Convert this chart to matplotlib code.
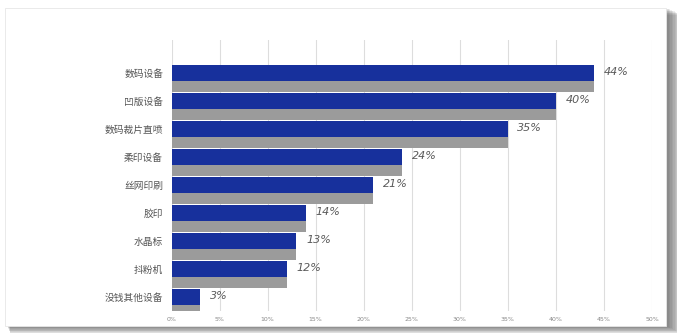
import matplotlib
matplotlib.use("Agg")
import matplotlib.pyplot as plt
from matplotlib.patches import Rectangle
import numpy as np

categories = ["数码设备", "凹版设备", "数码裁片直喷", "柔印设备", "丝网印刷",
              "胶印", "水晶标", "抖粉机", "没钱其他设备"]
values = [44, 40, 35, 24, 21, 14, 13, 12, 3]
tick_values = [0, 5, 10, 15, 20, 25, 30, 35, 40, 45, 50]

W, H = 677, 333
fig = plt.figure(figsize=(W / 100, H / 100), dpi=100)
fig.patch.set_facecolor("white")

# card with a soft drop shadow on the right and bottom edges
card_l, card_r, card_t, card_b = 4.5, 666, 7.5, 326
for k in range(10):
    fig.patches.append(Rectangle(((card_l + 3 + k * 0.3) / W, (H - card_b - 1 - k * 0.7) / H),
                                 (card_r - card_l + k * 1.1) / W, (card_b - card_t) / H,
                                 transform=fig.transFigure, facecolor="#444444",
                                 edgecolor="none", alpha=0.09, zorder=0))
fig.patches.append(Rectangle((card_l / W, (H - card_b) / H), (card_r - card_l) / W,
                             (card_b - card_t) / H, transform=fig.transFigure,
                             facecolor="white", edgecolor="#e6e6e6", linewidth=0.6, zorder=1))

ax = fig.add_axes([171.5 / W, 22 / H, (652 - 171.5) / W, (311 - 40) / H])
ax.set_zorder(2)
ax.patch.set_alpha(0)

y = np.arange(len(categories))
bar_h = 0.57
shadow_dy = 0.39
ax.barh(y + shadow_dy, values, height=bar_h, color="#9b9b9b", zorder=2)
ax.barh(y, values, height=bar_h, color="#17309c", zorder=3)

for yi, v in zip(y, values):
    ax.text(v + 1.0, yi - 0.02, f"{v}%", ha="left", va="center", fontsize=8,
            color="#5a5a5a", style="italic", family="DejaVu Sans", zorder=4)

ax.set_xlim(0, 50)
ax.set_ylim(8.5, -1.1786)
ax.set_xticks(tick_values)
ax.set_xticklabels([f"{t}%" for t in tick_values], fontsize=4.5, color="#888888")
ax.set_yticks(y)
ax.set_yticklabels(categories, fontsize=7, color="#555555", family=["Noto Sans CJK SC"])
ax.tick_params(axis="both", length=0)
ax.tick_params(axis="y", pad=6)
ax.tick_params(axis="x", pad=4)
ax.grid(axis="x", color="#dddddd", linewidth=0.8, zorder=1)
ax.set_axisbelow(True)
for s in ax.spines.values():
    s.set_visible(False)

fig.savefig("out.png", dpi=100, facecolor="white")
